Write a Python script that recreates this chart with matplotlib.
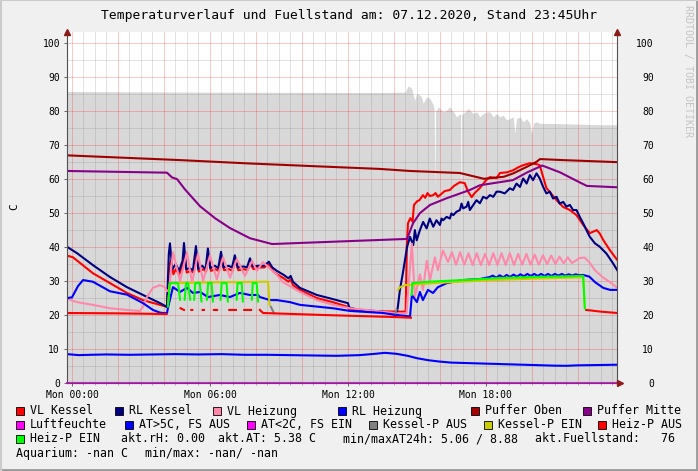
import numpy as np
import matplotlib
matplotlib.use('Agg')
from matplotlib import pyplot as plt
from matplotlib.patches import Rectangle
from matplotlib.lines import Line2D

W, H = 698, 471

# time axis in hours of the day, values in C
vl_kessel_t = [-0.22, 0.04, 0.91, 1.65, 2.39, 3.08, 3.82, 4.13, 4.23, 4.31, 4.41, 4.51, 4.66, 4.81, 4.89,
               4.99, 5.16, 5.29, 5.41, 5.51, 5.71, 5.83, 5.94, 6.04, 6.24, 6.38, 6.51, 6.61, 6.83, 6.98,
               7.11, 7.23, 7.48, 7.63, 7.77, 7.89, 8.11, 8.36, 8.58, 8.76, 8.91, 9.21, 9.41, 9.51, 9.61,
               9.91, 10.65, 11.34, 12.0, 12.06, 12.91, 14.11, 14.51, 14.56, 14.61, 14.71, 14.81, 14.87,
               15.01, 15.11, 15.26, 15.36, 15.46, 15.56, 15.71, 15.81, 15.91, 16.0, 16.21, 16.43, 16.61,
               16.87, 17.08, 17.21, 17.38, 17.51, 17.74, 18.01, 18.17, 18.46, 18.61, 18.91, 19.18, 19.41,
               19.62, 19.91, 20.21, 20.34, 20.49, 20.63, 20.78, 21.07, 21.36, 21.65, 21.94, 22.23, 22.52,
               22.82, 22.95, 23.11, 23.39, 23.71]
vl_kessel = [37.5, 37.0, 32.3, 29.4, 26.5, 24.4, 23.0, 22.4, 34.5, 36.0, 32.0, 33.5, 32.0, 34.5, 38.5,
             32.5, 33.0, 32.5, 38.0, 32.8, 33.5, 32.8, 37.5, 33.0, 33.5, 33.0, 36.8, 33.2, 33.5, 33.0,
             36.0, 33.2, 33.5, 33.2, 35.0, 33.5, 34.0, 34.0, 35.0, 32.8, 32.0, 30.8, 29.8, 30.5, 28.8,
             27.4, 25.0, 23.8, 22.4, 21.5, 21.2, 21.0, 21.0, 40.0, 47.0, 48.5, 47.5, 52.4,
             53.5, 53.8, 55.3, 54.5, 55.9, 55.0, 55.3, 55.9, 54.8, 55.3, 56.5, 56.8, 58.0,
             59.1, 58.8, 56.5, 54.7, 55.9, 57.4, 59.7, 60.6, 60.3, 61.8, 62.0, 62.6, 63.5,
             64.1, 64.7, 64.4, 64.1, 60.6, 57.4, 56.2, 53.8, 51.8, 50.9, 49.4, 46.5, 44.1,
             45.0, 44.0, 42.0, 39.1, 36.2]

rl_kessel_t = [-0.22, 0.22, 0.91, 1.65, 2.39, 3.09, 3.83, 4.13, 4.21, 4.26, 4.36, 4.51, 4.66, 4.81, 4.87,
               4.96, 5.11, 5.26, 5.39, 5.49, 5.66, 5.81, 5.91, 6.01, 6.21, 6.36, 6.48, 6.59, 6.81, 6.96,
               7.08, 7.21, 7.46, 7.61, 7.74, 7.86, 8.11, 8.36, 8.56, 8.71, 8.91, 9.21, 9.41, 9.51, 9.61,
               9.91, 10.65, 11.34, 12.0, 12.06, 12.41, 13.51, 14.11, 14.17, 14.26, 14.39, 14.48, 14.57,
               14.7, 14.84, 14.91, 14.99, 15.13, 15.27, 15.42, 15.56, 15.71, 15.85, 16.0, 16.07, 16.14,
               16.29, 16.43, 16.5, 16.58, 16.72, 16.87, 16.94, 17.01, 17.16, 17.23, 17.3, 17.45, 17.59,
               17.74, 17.88, 18.03, 18.17, 18.32, 18.46, 18.61, 18.82, 19.04, 19.18, 19.33, 19.48, 19.62,
               19.77, 19.91, 20.05, 20.2, 20.34, 20.49, 20.63, 20.78, 20.92, 21.07, 21.21, 21.36, 21.5,
               21.65, 21.79, 21.94, 22.08, 22.23, 22.37, 22.52, 22.74, 22.95, 23.24, 23.53, 23.71]
rl_kessel = [40.1, 38.2, 34.7, 31.2, 28.2, 25.9, 23.5, 22.4, 38.0, 41.1, 33.5, 35.0, 33.0, 36.0, 41.2,
             33.5, 33.8, 33.2, 40.3, 33.5, 34.5, 33.5, 39.6, 33.8, 34.5, 33.8, 38.6, 34.0, 34.5, 34.0,
             37.6, 34.0, 34.3, 34.0, 36.7, 34.3, 34.5, 34.5, 35.7, 34.0, 33.0, 31.8, 30.8, 31.5, 29.8,
             28.0, 25.9, 24.7, 23.5, 22.2, 21.6, 21.0, 20.0, 22.4, 27.4, 32.4, 36.2, 40.0,
             43.0, 40.6, 45.0, 42.0, 45.0, 47.4, 45.5, 48.4, 46.0, 47.9, 46.5, 48.4, 47.9,
             48.9, 48.4, 49.9, 49.4, 50.4, 50.9, 52.8, 51.4, 51.9, 53.3, 50.9, 52.4, 53.8,
             52.9, 54.8, 54.3, 55.3, 54.8, 56.3, 56.3, 55.8, 57.3, 56.8, 58.7, 57.7, 60.2,
             58.7, 61.2, 59.7, 61.7, 60.2, 57.7, 55.8, 56.3, 54.3, 54.8, 52.8, 53.3, 51.9,
             52.4, 50.9, 50.9, 48.9, 47.0, 45.0, 43.0, 41.1, 40.1, 38.1, 35.2, 33.2]

vl_heizung_t = [-0.22, 0.22, 0.91, 1.65, 2.39, 2.96, 3.09, 3.26, 3.52, 3.83, 4.04, 4.13, 4.22, 4.39, 4.7,
                5.0, 5.22, 5.48, 5.7, 6.0, 6.3, 6.57, 6.87, 7.17, 7.52, 7.83, 8.04, 8.3, 8.91, 9.17,
                9.91, 10.65, 11.35, 12.09, 13.52, 14.13, 14.55, 14.65, 14.78, 14.91, 15.13, 15.26, 15.43,
                15.57, 15.78, 15.91, 16.13, 16.35, 16.52, 16.7, 16.88, 17.06, 17.24, 17.42, 17.6, 17.78,
                17.96, 18.14, 18.32, 18.5, 18.68, 18.86, 19.04, 19.22, 19.4, 19.58, 19.76, 19.94, 20.12,
                20.3, 20.48, 20.66, 20.84, 21.02, 21.2, 21.38, 21.56, 21.74, 21.9, 22.08, 22.3, 22.5,
                22.74, 23.1, 23.4, 23.71]
vl_heizung = [24.8, 23.8, 23.0, 22.0, 21.5, 21.2, 22.5, 25.3, 28.0, 28.8, 28.2, 27.0, 27.5, 38.5, 30.0,
              38.5, 29.5, 38.0, 30.0, 37.5, 30.5, 37.0, 31.0, 36.5, 31.5, 36.0, 33.0, 35.6, 31.8, 29.7,
              26.8, 24.4, 23.0, 22.0, 21.0, 20.5, 20.5, 30.0, 41.0, 25.3, 32.0, 27.4, 36.0,
              30.3, 37.0, 33.2, 39.0, 35.6, 38.5, 34.8, 38.5, 34.8, 38.2, 34.7, 38.2, 34.7,
              38.0, 34.7, 38.2, 34.7, 38.2, 34.7, 38.2, 34.7, 38.0, 34.8, 38.0, 34.8, 37.8,
              34.8, 37.6, 35.0, 37.5, 35.0, 37.2, 35.2, 37.0, 35.3, 36.0, 36.8, 36.9, 35.5,
              33.2, 31.0, 29.7, 28.0]

rl_heizung_t = [-0.22, 0.0, 0.26, 0.48, 0.91, 1.65, 2.39, 3.09, 3.52, 3.83, 4.13, 4.17, 4.39, 4.7, 5.0,
                5.26, 5.57, 5.91, 6.43, 6.87, 7.3, 7.74, 8.09, 8.17, 8.61, 8.91, 9.48, 9.91, 11.35, 12.09,
                13.52, 14.13, 14.7, 14.78, 15.0, 15.13, 15.26, 15.48, 15.7, 15.91, 16.3, 17.0, 17.74,
                18.17, 18.3, 18.45, 18.6, 18.75, 18.9, 19.05, 19.2, 19.35, 19.5, 19.65, 19.8, 19.95,
                20.1, 20.25, 20.4, 20.55, 20.7, 20.85, 21.0, 21.15, 21.3, 21.45, 21.6, 21.75, 21.9,
                22.05, 22.23, 22.5, 22.74, 23.1, 23.4, 23.71]
rl_heizung = [25.0, 25.2, 28.5, 30.3, 29.8, 27.0, 26.0, 23.5, 21.5, 20.7, 20.5, 22.0, 28.2, 26.8, 28.0,
              26.5, 26.8, 25.3, 25.9, 25.3, 26.5, 25.9, 25.9, 25.3, 24.4, 24.4, 23.8, 23.0, 22.0, 21.2,
              20.6, 20.0, 19.6, 25.9, 23.8, 26.8, 24.4, 27.4, 26.5, 28.2, 29.4, 30.3, 30.6,
              31.2, 31.6, 31.0, 31.7, 31.1, 31.8, 31.2, 31.9, 31.3, 32.0, 31.4, 32.1, 31.5,
              32.1, 31.5, 32.1, 31.5, 32.1, 31.5, 32.1, 31.6, 32.1, 31.6, 32.0, 31.6, 32.0,
              31.7, 31.8, 31.3, 29.7, 28.0, 27.4, 27.4]

puffer_oben_t = [-0.22, 4.7, 7.74, 13.39, 14.7, 16.87, 17.91, 18.78, 19.19, 19.77, 20.2, 20.35, 21.35, 23.71]
puffer_oben = [67.0, 65.6, 64.6, 63.0, 62.4, 61.8, 60.1, 60.7, 61.7, 63.6, 65.1, 65.9, 65.6, 65.0]

puffer_mitte_t = [-0.22, 4.13, 4.35, 4.57, 4.91, 5.57, 6.22, 6.87, 7.74, 8.7, 14.57, 14.83, 15.13, 15.57,
                  16.3, 17.3, 17.74, 19.17, 19.8, 20.45, 21.22, 22.09, 22.39, 23.71]
puffer_mitte = [62.4, 61.9, 60.5, 60.0, 57.0, 52.0, 48.5, 45.6, 42.6, 40.9, 42.4, 47.0, 50.0, 52.4,
                54.4, 56.8, 58.2, 59.7, 62.0, 64.0, 62.0, 59.0, 58.0, 57.6]

luftfeuchte_t = [-0.22, 23.71]
luftfeuchte = [0.0, 0.0]

aussen_t = [-0.22, 0.3, 0.8, 1.5, 2.5, 3.5, 4.5, 5.5, 6.5, 7.5, 8.5, 9.5, 10.5, 11.5, 12.5, 13.2, 13.6,
            14.1, 14.6, 15.0, 15.5, 16.0, 16.5, 17.0, 18.0, 19.0, 20.0, 21.0, 21.5, 22.0, 23.0, 23.71]
aussen = [8.5, 8.2, 8.3, 8.4, 8.3, 8.4, 8.5, 8.4, 8.5, 8.3, 8.3, 8.2, 8.1, 8.0, 8.2, 8.6, 8.88,
          8.6, 8.0, 7.3, 6.7, 6.3, 6.0, 5.9, 5.7, 5.5, 5.3, 5.1, 5.06, 5.2, 5.3, 5.38]

# Kessel pump: value and state (1 = EIN, 0 = AUS)
kessel_p_t = [4.18, 4.26, 6.0, 8.4, 8.53, 8.59, 8.65, 8.78, 8.9, 14.06, 14.11, 14.18, 14.26, 14.48,
              16.0, 18.0, 20.0, 22.23, 22.3]
kessel_p = [23.5, 29.4, 29.6, 29.8, 29.8, 23.0, 22.4, 20.6, np.nan, 20.5, 21.5, 27.4, 28.2, 28.8,
            29.5, 30.2, 30.7, 31.1, 22.5]
kessel_p_on = [1, 1, 1, 1, 1, 1, 0, 0, 0, 0, 0, 1, 1, 1, 1, 1, 1, 1, 1]

# Heiz pump: value and state
heiz_p_t = [-0.22, 2.0, 4.11,
            4.17, 4.26, 4.61, 4.70, 4.72, 4.87,
            4.90, 4.96, 5.05, 5.14, 5.19, 5.23,
            5.31, 5.36, 5.56, 5.63, 5.68, 5.74,
            5.87, 5.92, 6.07, 6.13, 6.17, 6.31,
            6.46, 6.51, 6.72, 6.78, 6.84, 7.13,
            7.16, 7.20, 7.38, 7.43, 7.49, 7.79,
            7.82, 7.86, 8.03, 8.09, 8.17, 8.31, 11.0, 14.11, 14.74,
            14.77, 14.80, 15.5, 17.0, 18.6, 20.0, 22.23, 22.30,
            22.36, 23.0, 23.71]
heiz_p = [20.6, 20.5, 20.3,
          22.5, 29.4, 29.4, 24.5, 22.0, 21.5,
          24.5, 29.4, 29.4, 24.5, 21.5, 21.5,
          24.5, 29.4, 29.4, 24.0, 21.5, 21.5,
          24.5, 29.4, 29.4, 24.0, 21.5, 21.5,
          24.5, 29.4, 29.4, 24.0, 21.5, 21.5,
          24.5, 29.4, 29.4, 24.0, 21.5, 21.5,
          24.5, 29.4, 29.4, 24.0, 21.5, 20.6, 20.0, 19.4, 19.2,
          25.9, 29.4, 29.8, 30.3, 30.9, 31.2, 31.5, 22.0,
          21.5, 21.0, 20.6]
heiz_p_on = [0, 0, 0,
             1, 1, 1, 1, 0, 0,
             1, 1, 1, 1, 0, 0,
             1, 1, 1, 1, 0, 0,
             1, 1, 1, 1, 0, 0,
             1, 1, 1, 1, 0, 0,
             1, 1, 1, 1, 0, 0,
             1, 1, 1, 1, 0, 0, 0, 0, 0,
             1, 1, 1, 1, 1, 1, 1, 1,
             0, 0, 0]

fuell_t = [-0.22, 5.57, 13.39, 14.48, 14.62, 14.77, 14.84, 14.91, 14.99, 15.13, 15.2, 15.27, 15.42, 15.57,
           15.71, 15.75, 15.78, 15.81, 15.86, 15.93, 16.0, 16.14, 16.29, 16.43, 16.58, 16.73, 16.87,
           16.9, 16.91, 16.94, 16.99, 17.09, 17.23, 17.3, 17.45, 17.6, 17.74, 17.88, 18.03, 18.17,
           18.32, 18.47, 18.61, 18.75, 18.9, 19.04, 19.19, 19.26, 19.33, 19.48, 19.62, 19.77, 19.91,
           19.99, 20.06, 20.2, 20.35, 20.64, 22.0, 23.0, 23.71]
fuell = [85.8, 85.6, 85.5, 85.6, 87.4, 86.7, 84.7, 83.2, 85.2, 84.7, 84.2, 82.3, 84.2, 83.7,
         81.8, 80.5, 57.0, 80.3, 80.3, 81.3, 80.8, 79.8, 80.3, 81.3, 79.8, 78.3, 79.3,
         79.0, 43.0, 79.0, 79.3, 79.8, 80.8, 80.3, 79.3, 79.8, 78.3, 79.3, 79.8, 79.8,
         78.3, 79.3, 78.3, 78.8, 77.4, 77.8, 78.3, 73.4, 77.8, 78.3, 76.9, 77.8, 76.4,
         73.4, 76.4, 76.9, 76.4, 76.4, 76.2, 76.0, 76.0]

x_ticks = [0, 6, 12, 18]
x_ticklabels = ['Mon 00:00', 'Mon 06:00', 'Mon 12:00', 'Mon 18:00']

c_vl_kessel = '#ff0000'
c_rl_kessel = '#000080'
c_vl_heizung = '#ff88aa'
c_rl_heizung = '#0000ff'
c_puffer_oben = '#a00000'
c_puffer_mitte = '#880088'
c_luft = '#ff00ff'
c_at_warm = '#0000ff'
c_at_kalt = '#ff00ff'
c_kp_aus = '#808080'
c_kp_ein = '#cccc00'
c_hp_aus = '#ff0000'
c_hp_ein = '#00ff00'

MONO = 'DejaVu Sans Mono'


def fpos(x, y):
    return x / W, 1 - y / H


def by_state(t, v, state, want):
    v = np.array(v, dtype=float)
    s = np.array(state)
    return np.array(t), np.where(s == want, v, np.nan)


fig = plt.figure(figsize=(W / 100, H / 100), dpi=100, facecolor='#f0f0f0')
ax = fig.add_axes((67 / W, 1 - 383 / H, 550 / W, 351 / H))
ax.set_facecolor('white')
xmin, xmax = -0.217, 23.70
ymax = 103.3
ax.set_xlim(xmin, xmax)
ax.set_ylim(0, ymax)

# fill level as grey area
ax.fill_between(fuell_t, 0, fuell, color='#d8d8d8', lw=0, zorder=1)

# grid on top of the area
red_grid = (1, 0, 0, 0.22)
grey_grid = (0.45, 0.45, 0.45, 0.2)
for h in np.arange(0, 24, 0.5):
    ax.axvline(h, color=red_grid if h % 2 == 0 else grey_grid, lw=0.7, zorder=1.5)
for v in range(5, 101, 5):
    ax.axhline(v, color=red_grid if v % 10 == 0 else grey_grid, lw=0.7, zorder=1.5)

lw = 1.5
ax.plot(vl_kessel_t, vl_kessel, color=c_vl_kessel, lw=lw, zorder=2)
ax.plot(rl_kessel_t, rl_kessel, color=c_rl_kessel, lw=lw, zorder=2.1)
ax.plot(vl_heizung_t, vl_heizung, color=c_vl_heizung, lw=lw, zorder=2.2)
ax.plot(rl_heizung_t, rl_heizung, color=c_rl_heizung, lw=lw, zorder=2.3)
ax.plot(puffer_oben_t, puffer_oben, color=c_puffer_oben, lw=lw, zorder=2.4)
ax.plot(puffer_mitte_t, puffer_mitte, color=c_puffer_mitte, lw=lw, zorder=2.5)
ax.plot(luftfeuchte_t, luftfeuchte, color=c_luft, lw=lw, zorder=2.6, clip_on=False)
ax.plot(aussen_t, aussen, color=c_at_warm, lw=lw, zorder=2.7)

t, v = by_state(kessel_p_t, kessel_p, kessel_p_on, 0)
ax.plot(t, v, color=c_kp_aus, lw=lw, zorder=2.8)
t, v = by_state(kessel_p_t, kessel_p, kessel_p_on, 1)
ax.plot(t, v, color=c_kp_ein, lw=lw, zorder=2.9)
t, v = by_state(heiz_p_t, heiz_p, heiz_p_on, 0)
ax.plot(t, v, color=c_hp_aus, lw=lw, zorder=3.0)
t, v = by_state(heiz_p_t, heiz_p, heiz_p_on, 1)
ax.plot(t, v, color=c_hp_ein, lw=lw, zorder=3.1)

# axes look
ax.spines['top'].set_visible(False)
for side in ['left', 'bottom', 'right']:
    ax.spines[side].set_color('#505050')
    ax.spines[side].set_linewidth(0.8)
    ax.spines[side].set_zorder(3.5)

ax.set_yticks(range(0, 101, 10))
ax.set_xticks(x_ticks)
ax.set_xticklabels(x_ticklabels)
ax.set_xticks(np.arange(0, 24, 0.5), minor=True)
ax.tick_params(axis='both', which='major', labelsize=7, length=2, width=0.6, color='#505050',
               pad=3)
ax.tick_params(axis='x', which='minor', length=1.2, width=0.5, color='#909090')
ax.tick_params(axis='y', which='both', right=False)
for lbl in ax.get_xticklabels() + ax.get_yticklabels():
    lbl.set_family(MONO)

ax2 = ax.twinx()
ax2.set_ylim(0, ymax)
ax2.set_yticks(range(0, 101, 10))
ax2.tick_params(axis='y', length=0, pad=26.6, labelsize=7)
for lbl in ax2.get_yticklabels():
    lbl.set_family(MONO)
    lbl.set_horizontalalignment('right')
for s in ax2.spines.values():
    s.set_visible(False)

# arrows at axis ends
arrow_c = '#8b1a1a'
ax.plot([xmin], [ymax], marker='^', ms=4, color=arrow_c, clip_on=False, zorder=5)
ax.plot([xmax], [ymax], marker='^', ms=4, color=arrow_c, clip_on=False, zorder=5)
ax.plot([xmax + 0.12], [0], marker='>', ms=4, color=arrow_c, clip_on=False, zorder=5)

# titles
fig.text(*fpos(349.5, 16), 'Temperaturverlauf und Fuellstand am: 07.12.2020, Stand 23:45Uhr',
         family=MONO, fontsize=9.4, ha='center', va='center')
fig.text(*fpos(14, 207), 'C', family=MONO, fontsize=8, rotation=90, ha='center', va='center')
fig.text(*fpos(688, 5), 'RRDTOOL / TOBI OETIKER', family=MONO, fontsize=7.2, rotation=-90,
         ha='center', va='top', color='#c4c4c4')

# legend
legend_items = [
    ('VL Kessel', c_vl_kessel, 20, 411), ('RL Kessel', c_rl_kessel, 119, 411),
    ('VL Heizung', c_vl_heizung, 217, 411), ('RL Heizung', c_rl_heizung, 342, 411),
    ('Puffer Oben', c_puffer_oben, 475, 411), ('Puffer Mitte', c_puffer_mitte, 587, 411),
    ('Luftfeuchte', c_luft, 20, 425), ('AT>5C, FS AUS', c_at_warm, 129, 425),
    ('AT<2C, FS EIN', c_at_kalt, 251, 425), ('Kessel-P AUS', c_kp_aus, 373, 425),
    ('Kessel-P EIN', c_kp_ein, 488, 425), ('Heiz-P AUS', c_hp_aus, 602, 425),
    ('Heiz-P EIN', c_hp_ein, 20, 439),
]
for label, color, x, y in legend_items:
    x0, y0 = fpos(x - 4, y + 4)
    fig.add_artist(Rectangle((x0, y0), 8 / W, 8 / H, transform=fig.transFigure,
                             facecolor=color, edgecolor='black', lw=0.6))
    fig.text(*fpos(x + 10, y), label, family=MONO, fontsize=8.4, va='center', ha='left')

info_items = [
    ('akt.rH: 0.00', 121, 439), ('akt.AT: 5.38 C', 218, 439),
    ('min/maxAT24h: 5.06 / 8.88', 343, 439), ('akt.Fuellstand:   76', 535, 439),
    ('Aquarium: -nan C', 16, 453), ('min/max: -nan/ -nan', 145, 453),
]
for label, x, y in info_items:
    fig.text(*fpos(x, y), label, family=MONO, fontsize=8.4, va='center', ha='left')

# 3d frame
fig.add_artist(Line2D([0, 1], [0.002, 0.002], transform=fig.transFigure, color='#999999', lw=2))
fig.add_artist(Line2D([0.9985, 0.9985], [0, 1], transform=fig.transFigure, color='#999999', lw=2))
fig.add_artist(Line2D([0, 1], [0.999, 0.999], transform=fig.transFigure, color='#cbcbcb', lw=1.5))
fig.add_artist(Line2D([0.001, 0.001], [0, 1], transform=fig.transFigure, color='#cbcbcb', lw=1.5))

fig.savefig('out.png', dpi=100, facecolor=fig.get_facecolor())
